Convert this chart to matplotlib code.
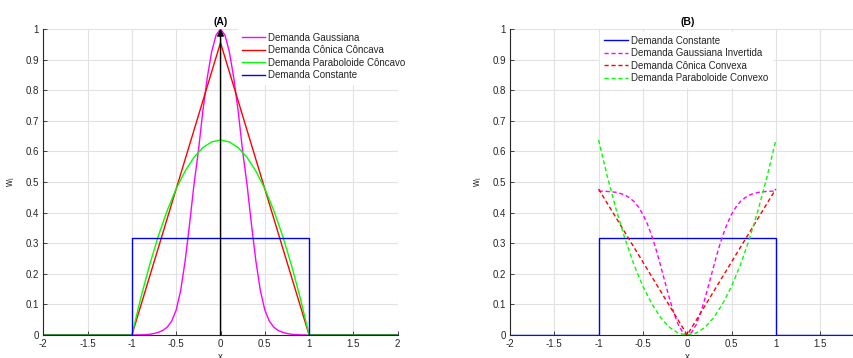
import matplotlib
matplotlib.use("Agg")
import matplotlib.pyplot as plt
import numpy as np

plt.rcParams['font.family'] = ['Liberation Sans', 'DejaVu Sans']

# --- (A) concave demands ---
x_gauss = [-2.0, -1.0, -0.95, -0.9, -0.85, -0.8, -0.75, -0.7, -0.65, -0.6, -0.55, -0.5,
           -0.45, -0.4, -0.35, -0.3, -0.25, -0.2, -0.15, -0.1, -0.05, 0.0,
           0.05, 0.1, 0.15, 0.2, 0.25, 0.3, 0.35, 0.4, 0.45, 0.5,
           0.55, 0.6, 0.65, 0.7, 0.75, 0.8, 0.85, 0.9, 0.95, 1.0, 2.0]
w_gauss = [0.0, 0.0, 0.0002, 0.0005, 0.0012, 0.0025, 0.005, 0.009, 0.015, 0.026, 0.046, 0.082,
           0.145, 0.24, 0.36, 0.49, 0.60, 0.73, 0.84, 0.925, 0.98, 1.0,
           0.98, 0.925, 0.84, 0.73, 0.60, 0.49, 0.36, 0.24, 0.145, 0.082,
           0.046, 0.026, 0.015, 0.009, 0.005, 0.0025, 0.0012, 0.0005, 0.0002, 0.0, 0.0]

x_cone = [-2.0, -1.0, 0.0, 1.0, 2.0]
w_cone = [0.0, 0.0, 0.955, 0.0, 0.0]

x_parab = [-2.0, -1.0, -0.9, -0.8, -0.7, -0.6, -0.5, -0.4, -0.3, -0.2, -0.1, 0.0,
           0.1, 0.2, 0.3, 0.4, 0.5, 0.6, 0.7, 0.8, 0.9, 1.0, 2.0]
w_parab = [0.0, 0.0, 0.121, 0.229, 0.325, 0.408, 0.478, 0.535, 0.580, 0.612, 0.631, 0.637,
           0.631, 0.612, 0.580, 0.535, 0.478, 0.408, 0.325, 0.229, 0.121, 0.0, 0.0]

x_const = [-2.0, -1.0, -1.0, 1.0, 1.0, 2.0]
w_const = [0.0, 0.0, 0.318, 0.318, 0.0, 0.0]

# --- (B) convex demands ---
x_inv = [-1.0, -0.95, -0.9, -0.85, -0.8, -0.75, -0.7, -0.65, -0.6, -0.55, -0.5,
         -0.45, -0.4, -0.35, -0.3, -0.25, -0.2, -0.15, -0.1, -0.05, 0.0,
         0.05, 0.1, 0.15, 0.2, 0.25, 0.3, 0.35, 0.4, 0.45, 0.5,
         0.55, 0.6, 0.65, 0.7, 0.75, 0.8, 0.85, 0.9, 0.95, 1.0]
w_inv = [0.470, 0.470, 0.469, 0.468, 0.466, 0.462, 0.457, 0.448, 0.436, 0.418, 0.394,
         0.363, 0.324, 0.278, 0.226, 0.172, 0.119, 0.071, 0.033, 0.0085, 0.0,
         0.0085, 0.033, 0.071, 0.119, 0.172, 0.226, 0.278, 0.324, 0.363, 0.394,
         0.418, 0.436, 0.448, 0.457, 0.462, 0.466, 0.468, 0.469, 0.470, 0.470]

x_cone_cvx = [-1.0, 0.0, 1.0]
w_cone_cvx = [0.477, 0.0, 0.477]

x_parab_cvx = [-1.0, -0.9, -0.8, -0.7, -0.6, -0.5, -0.4, -0.3, -0.2, -0.1, 0.0,
               0.1, 0.2, 0.3, 0.4, 0.5, 0.6, 0.7, 0.8, 0.9, 1.0]
w_parab_cvx = [0.637, 0.516, 0.408, 0.312, 0.229, 0.159, 0.102, 0.057, 0.025, 0.006, 0.0,
               0.006, 0.025, 0.057, 0.102, 0.159, 0.229, 0.312, 0.408, 0.516, 0.637]

x_ticks = [-2, -1.5, -1, -0.5, 0, 0.5, 1, 1.5, 2]
x_ticklabels = ['-2', '-1.5', '-1', '-0.5', '0', '0.5', '1', '1.5', '2']
y_ticks = [0, 0.1, 0.2, 0.3, 0.4, 0.5, 0.6, 0.7, 0.8, 0.9, 1]
y_ticklabels = ['0', '0.1', '0.2', '0.3', '0.4', '0.5', '0.6', '0.7', '0.8', '0.9', '1']

AXC = '#262626'
FS = 7


def style_axes(ax, title):
    ax.set_xlim(-2, 2)
    ax.set_ylim(0, 1)
    ax.set_xticks(x_ticks)
    ax.set_xticklabels(x_ticklabels)
    ax.set_yticks(y_ticks)
    ax.set_yticklabels(y_ticklabels)
    ax.grid(True, color='#e2e2e2', lw=0.8)
    ax.set_axisbelow(True)
    for s in ['top', 'right']:
        ax.spines[s].set_visible(False)
    for s in ['left', 'bottom']:
        ax.spines[s].set_color(AXC)
        ax.spines[s].set_linewidth(0.8)
    ax.tick_params(direction='in', length=3, width=0.6, colors=AXC,
                   labelsize=FS, pad=3)
    ax.set_title(title, fontsize=7.5, fontweight='bold', color='black', pad=3)
    ax.set_xlabel('x', fontsize=FS, color=AXC, labelpad=2)
    ax.set_ylabel('w$_\\mathregular{i}$', fontsize=FS, color=AXC, labelpad=6)


fig = plt.figure(figsize=(8.54, 3.58), dpi=100)
axA = fig.add_axes([0.0507, 0.0642, 0.415, 0.855])
axB = fig.add_axes([0.5972, 0.0642, 0.415, 0.855])

lw = 1.0
axA.plot(x_gauss, w_gauss, color='#ff00ff', lw=lw, label='Demanda Gaussiana')
axA.plot(x_cone, w_cone, color='#ff0000', lw=lw, label='Demanda Cônica Côncava')
axA.plot(x_parab, w_parab, color='#00ff00', lw=lw, label='Demanda Paraboloide Côncavo')
axA.plot(x_const, w_const, color='#0000ff', lw=lw, label='Demanda Constante')
axA.annotate('', xy=(0, 1.0), xytext=(0, 0),
             arrowprops=dict(arrowstyle='-|>', color='black', lw=1.0,
                             mutation_scale=10, shrinkA=0, shrinkB=0))
style_axes(axA, '(A)')
legA = axA.legend(loc='upper left', bbox_to_anchor=(0.55, 1.0), fontsize=FS,
                  frameon=True, fancybox=False, edgecolor='white', framealpha=1,
                  handlelength=2.4, handletextpad=0.3, labelspacing=0.25,
                  borderpad=0.4, borderaxespad=0.0)
for t in legA.get_texts():
    t.set_color(AXC)

dash = (3, 2)
axB.plot(x_const, w_const, color='#0000ff', lw=lw, label='Demanda Constante')
axB.plot(x_inv, w_inv, color='#ff00ff', lw=lw, dashes=dash, label='Demanda Gaussiana Invertida')
axB.plot(x_cone_cvx, w_cone_cvx, color='#ff0000', lw=lw, dashes=dash, label='Demanda Cônica Convexa')
axB.plot(x_parab_cvx, w_parab_cvx, color='#00ff00', lw=lw, dashes=dash, label='Demanda Paraboloide Convexo')
style_axes(axB, '(B)')
legB = axB.legend(loc='upper left', bbox_to_anchor=(0.255, 0.99), fontsize=FS,
                  frameon=True, fancybox=False, edgecolor='white', framealpha=1,
                  handlelength=2.4, handletextpad=0.3, labelspacing=0.25,
                  borderpad=0.4, borderaxespad=0.0)
for t in legB.get_texts():
    t.set_color(AXC)

fig.savefig('out.png', dpi=100)
